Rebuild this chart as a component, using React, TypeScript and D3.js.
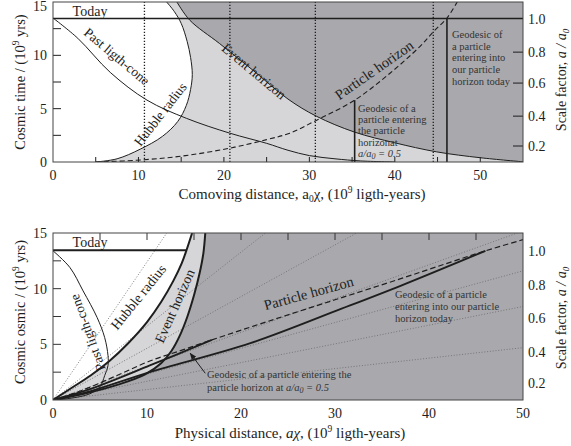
import * as d3 from 'd3'

type Pt = [number, number]

// ---------- comoving panel (top) : [a0 chi, t] ----------
const hubbleComoving: Pt[] = [
  [5, 0], [7.5, 0.3], [10.2, 1.2], [12.8, 2.4], [14.6, 3.8], [15.6, 5.3], [16.1, 6.8],
  [16.3, 8.2], [16.1, 9.8], [15.7, 11.3], [15.0, 13.0], [14.2, 14.1], [13.3, 15],
]
const eventComoving: Pt[] = [
  [14.5, 15], [16, 13.3], [19.5, 11.1], [23.4, 8.6], [27.5, 5.9], [30.8, 4.3], [35.3, 2.8],
  [40, 1.8], [44.9, 0.95], [50, 0.4], [55, 0.02],
]
const pastConeComoving: Pt[] = [
  [0, 13.5], [2.9, 11.6], [6.7, 8.4], [11, 5.8], [15.6, 4.1], [20.7, 2.7], [25, 1.75],
  [27.5, 1.1], [30, 0.6], [33, 0.3], [36, 0.1], [40, 0],
]
const particleComoving: Pt[] = [
  [5, 0], [10.5, 0.2], [15.5, 0.6], [20.7, 1.3], [25, 2.1], [27.7, 2.7], [30.8, 3.9],
  [35.3, 5.8], [39.4, 8.3], [42.9, 10.8], [44.5, 12.2], [46.1, 13.5], [47.3, 15],
]
const dottedComoving = [10.7, 20.7, 30.7, 44.5]
const geodesicHalf: Pt = [35.3, 5.8]
const geodesicToday: Pt = [46.1, 13.5]

// ---------- physical panel (bottom) : [a chi, t] ----------
const hubblePhysical: Pt[] = [
  [0, 0], [2, 1.1], [4, 2.2], [6, 3.5], [8, 5.1], [10, 7.0], [11.5, 8.8],
  [12.8, 10.7], [13.7, 12.3], [14.2, 13.45], [14.8, 15],
]
const eventPhysical: Pt[] = [
  [0, 0], [3.5, 0.6], [7, 1.4], [9.8, 2.3], [11.5, 3.3], [12.6, 4.4], [13.5, 5.8],
  [14.3, 7.5], [15.0, 9.4], [15.6, 11.4], [16.0, 13.2], [16.2, 15],
]
const pastConePhysical: Pt[] = [
  [0, 13.4], [1.8, 11.9], [3.2, 9.8], [4.7, 7.4], [5.5, 5.6], [5.85, 4.0], [5.85, 3.1],
  [5.5, 2.2], [5.0, 1.2], [3.9, 0.55], [1.8, 0.15], [0, 0],
]
const particlePhysical: Pt[] = [
  [0, 0], [3.2, 0.9], [6.8, 2.2], [10.3, 3.5], [13.8, 4.5], [16.9, 5.4], [23, 7.1],
  [30, 9.0], [37, 10.9], [42, 12.3], [46, 13.4], [50, 14.4],
]
const geodesicHalfPhysical: Pt[] = [[0, 0], [4, 1.0], [10.3, 3.1], [16.9, 5.4]]
const geodesicTodayPhysical: Pt[] = [
  [0, 0], [4, 0.8], [10.3, 2.5], [21, 5.1], [30.7, 8.2], [37.1, 10.3], [46, 13.4],
]
// end points of the comoving world lines drawn dotted
const dottedPhysicalEnds: Pt[] = [
  [12.1, 15], [22.6, 15], [32.3, 15], [49.4, 15], [50, 11.6], [50, 8.4], [50, 4.7],
]

// ---------- ticks ----------
const TODAY = 13.45
const timeTicks = [0, 5, 10, 15]
const timeMinor = [2.5, 5, 7.5, 10, 12.5]
const comovingTicks = [0, 10, 20, 30, 40, 50]
const comovingMinor = [5, 10, 15, 20, 25, 30, 35, 40, 45, 50]
const physicalTicks = [0, 10, 20, 30, 40, 50]
const physicalTopTicks = [5, 10, 15, 20, 25, 30, 35, 40, 45]
const scaleLabels = ['0.2', '0.4', '0.6', '0.8', '1.0']
const scaleTimes = [1.5, 4.3, 7.4, 10.3, 13.4]

const FONT = '"Liberation Serif", "DejaVu Serif", serif'
const LIGHT = '#d6d6d8'
const DARK = '#a9a9ad'
const INK = '#1e1e1e'

const L = 53, R = 523
const xTop = d3.scaleLinear().domain([0, 55]).range([L, R])
const yTop = d3.scaleLinear().domain([0, 15]).range([162, 2])
const xBot = d3.scaleLinear().domain([0, 50]).range([L, R])
const yBot = d3.scaleLinear().domain([0, 15]).range([400, 233])

function curveOf(x: d3.ScaleLinear<number, number>, y: d3.ScaleLinear<number, number>) {
  return d3.line<Pt>().x(d => x(d[0])).y(d => y(d[1])).curve(d3.curveCatmullRom.alpha(0.5))
}
const lineTop = curveOf(xTop, yTop)
const lineBot = curveOf(xBot, yBot)
const straight = (x: d3.ScaleLinear<number, number>, y: d3.ScaleLinear<number, number>) =>
  d3.line<Pt>().x(d => x(d[0])).y(d => y(d[1]))

function closeWith(path: string, x: d3.ScaleLinear<number, number>, y: d3.ScaleLinear<number, number>, corners: Pt[]) {
  return path + corners.map(c => `L${x(c[0])},${y(c[1])}`).join('') + 'Z'
}

function Label({ x, y, rot = 0, size = 14, children, fill = INK, anchor = 'middle' }: any) {
  return (
    <text transform={`translate(${x},${y}) rotate(${rot})`} textAnchor={anchor} fontSize={size} fill={fill} fontFamily={FONT}>
      {children}
    </text>
  )
}

function Note({ x, y, lines, step }: { x: number; y: number; lines: any[]; step: number }) {
  return (
    <text fontSize={10.5} fill="#333" fontFamily={FONT}>
      {lines.map((l, i) => (
        <tspan key={i} x={x} y={y + i * step}>{l}</tspan>
      ))}
    </text>
  )
}

const aRatio = (
  <>
    <tspan fontStyle="italic">a/a</tspan>
    <tspan fontStyle="italic" fontSize={8} dy={2}>0</tspan>
    <tspan fontStyle="italic" dy={-2}> = 0.5</tspan>
  </>
)

const sup9 = (after: string) => (
  <>
    <tspan fontSize={9.5} dy={-6}>9</tspan><tspan dy={6}>{after}</tspan>
  </>
)

function TopPanel() {
  const w = R - L
  const white = closeWith(lineTop(hubbleComoving) ?? '', xTop, yTop, [[0, 15], [0, 0]])
  const dark = closeWith(lineTop(eventComoving) ?? '', xTop, yTop, [[55, 0], [55, 15]])
  return (
    <g>
      <defs>
        <clipPath id="clipTop"><rect x={L} y={yTop(15)} width={w} height={yTop(0) - yTop(15)} /></clipPath>
      </defs>
      <g clipPath="url(#clipTop)">
        <rect x={L} y={yTop(15)} width={w} height={yTop(0) - yTop(15)} fill={LIGHT} />
        <path d={white} fill="#fff" />
        <path d={dark} fill={DARK} />
        {dottedComoving.map(c => (
          <line key={c} x1={xTop(c)} x2={xTop(c)} y1={yTop(0)} y2={yTop(15)} stroke={INK} strokeWidth={1.3} strokeDasharray="1.3 1.7" />
        ))}
        <path d={lineTop(hubbleComoving) ?? ''} fill="none" stroke={INK} strokeWidth={1} />
        <path d={lineTop(eventComoving) ?? ''} fill="none" stroke={INK} strokeWidth={1} />
        <path d={lineTop(pastConeComoving) ?? ''} fill="none" stroke={INK} strokeWidth={1} />
        <path d={lineTop(particleComoving) ?? ''} fill="none" stroke={INK} strokeWidth={1.1} strokeDasharray="5 3" />
        <line x1={xTop(geodesicHalf[0])} x2={xTop(geodesicHalf[0])} y1={yTop(0)} y2={yTop(geodesicHalf[1])} stroke={INK} strokeWidth={1.6} />
        <line x1={xTop(geodesicToday[0])} x2={xTop(geodesicToday[0])} y1={yTop(0)} y2={yTop(geodesicToday[1])} stroke={INK} strokeWidth={1.6} />
        <line x1={L} x2={R} y1={yTop(TODAY)} y2={yTop(TODAY)} stroke={INK} strokeWidth={1.6} />
        {timeMinor.map(t => <line key={t} x1={L} x2={L + 8} y1={yTop(t)} y2={yTop(t)} stroke={INK} />)}
        {comovingMinor.map(c => <line key={c} x1={xTop(c)} x2={xTop(c)} y1={yTop(0)} y2={yTop(0) - 5} stroke={INK} />)}
        {scaleTimes.slice(0, 4).map(t => <line key={t} x1={R - 10} x2={R} y1={yTop(t)} y2={yTop(t)} stroke={INK} />)}
      </g>
      <rect x={L} y={yTop(15)} width={w} height={yTop(0) - yTop(15)} fill="none" stroke="#444" strokeWidth={1} />

      <Label x={90} y={16}>Today</Label>
      <Label x={114} y={60} rot={40} size={13.5}>Past ligth-cone</Label>
      <Label x={164} y={117} rot={-52} size={13.5}>Hubble radius</Label>
      <Label x={251} y={75} rot={40}>Event horizon</Label>
      <Label x={377} y={74} rot={-35} size={14.5}>Particle horizon</Label>
      <Note x={358} y={112} step={11.2} lines={['Geodesic of a', 'particle entering', 'the particle', 'horizonat', aRatio]} />
      <Note x={452} y={38} step={11.7} lines={['Geodesic of', 'a particle', 'entering into', 'our particle', 'horizon today']} />

      {timeTicks.map(t => (
        <text key={t} x={47} y={Math.max(yTop(t), 6)} dy="0.35em" textAnchor="end" fontSize={14} fontFamily={FONT} fill={INK}>{t}</text>
      ))}
      {comovingTicks.map(c => (
        <text key={c} x={xTop(c)} y={180} textAnchor="middle" fontSize={14} fontFamily={FONT} fill={INK}>{c}</text>
      ))}
      {scaleLabels.map((s, i) => (
        <text key={s} x={528} y={yTop(scaleTimes[i])} dy="0.35em" fontSize={14} fontFamily={FONT} fill={INK}>{s}</text>
      ))}
      <Label x={302} y={199} size={15}>
        Comoving distance, a<tspan fontSize={9.5} dy={3}>0</tspan><tspan dy={-3}>χ, (10</tspan>
        {sup9(' ligth-years)')}
      </Label>
      <Label x={25} y={82} rot={-90} size={14.5}>
        Cosmic time / (10{sup9(' yrs)')}
      </Label>
      <Label x={566} y={80} rot={-90}>
        Scale factor, <tspan fontStyle="italic">a / a</tspan><tspan fontStyle="italic" fontSize={9} dy={3}>0</tspan>
      </Label>
    </g>
  )
}

function BottomPanel() {
  const w = R - L
  const lightP = closeWith(lineBot(eventPhysical) ?? '', xBot, yBot, [[0, 15]])
  const whiteP = closeWith(lineBot(hubblePhysical) ?? '', xBot, yBot, [[0, 15]])
  const seg = straight(xBot, yBot)
  return (
    <g>
      <defs>
        <clipPath id="clipBot"><rect x={L} y={yBot(15)} width={w} height={yBot(0) - yBot(15)} /></clipPath>
        <marker id="arrowHead" viewBox="0 0 10 10" refX={9} refY={5} markerWidth={7} markerHeight={7} orient="auto">
          <path d="M0,1 L10,5 L0,9 Z" fill={INK} />
        </marker>
      </defs>
      <g clipPath="url(#clipBot)">
        <rect x={L} y={yBot(15)} width={w} height={yBot(0) - yBot(15)} fill={DARK} />
        <path d={lightP} fill={LIGHT} />
        <path d={whiteP} fill="#fff" />
        {dottedPhysicalEnds.map((e, i) => (
          <path key={i} d={seg([[0, 0], e]) ?? ''} fill="none" stroke="#6f6f72" strokeWidth={0.9} strokeDasharray="1 1.8" />
        ))}
        <path d={lineBot(pastConePhysical) ?? ''} fill="none" stroke={INK} strokeWidth={1} />
        <path d={lineBot(particlePhysical) ?? ''} fill="none" stroke={INK} strokeWidth={1.2} strokeDasharray="5.5 3" />
        <path d={lineBot(geodesicHalfPhysical) ?? ''} fill="none" stroke={INK} strokeWidth={1.9} />
        <path d={lineBot(geodesicTodayPhysical) ?? ''} fill="none" stroke={INK} strokeWidth={1.9} />
        <path d={lineBot(eventPhysical) ?? ''} fill="none" stroke={INK} strokeWidth={2} />
        <path d={lineBot(hubblePhysical) ?? ''} fill="none" stroke={INK} strokeWidth={2} />
        <line x1={L} x2={xBot(hubblePhysical[9][0])} y1={yBot(TODAY)} y2={yBot(TODAY)} stroke={INK} strokeWidth={1.8} />
        {timeMinor.map(t => <line key={t} x1={L} x2={L + 8} y1={yBot(t)} y2={yBot(t)} stroke="#333" />)}
        {physicalTopTicks.map(c => <line key={c} x1={xBot(c)} x2={xBot(c)} y1={yBot(15)} y2={yBot(15) + 7} stroke="#333" />)}
      </g>
      <rect x={L} y={yBot(15)} width={w} height={yBot(0) - yBot(15)} fill="none" stroke="#444" strokeWidth={1} />

      <Label x={90} y={247}>Today</Label>
      <Label x={92} y={331} rot={-110} size={13.5}>Past ligth-cone</Label>
      <Label x={142} y={300} rot={-51}>Hubble radius</Label>
      <Label x={179} y={308} rot={-66}>Event horizon</Label>
      <Label x={310} y={298} rot={-15.5} size={14.5}>Particle horizon</Label>
      <Note x={395} y={298} step={12} lines={['Geodesic of a particle', 'entering into our particle', 'horizon today']} />
      <Note x={207} y={378} step={12.5} lines={['Geodesic of a particle entering the', <>particle horizon at {aRatio}</>]} />
      <line x1={xBot(16.2)} y1={yBot(2.4)} x2={xBot(14.6)} y2={yBot(4.2)} stroke={INK} strokeWidth={1} markerEnd="url(#arrowHead)" />

      {timeTicks.map(t => (
        <text key={t} x={47} y={yBot(t)} dy="0.35em" textAnchor="end" fontSize={14} fontFamily={FONT} fill={INK}>{t}</text>
      ))}
      {physicalTicks.map(c => (
        <text key={c} x={xBot(c)} y={418} textAnchor="middle" fontSize={14} fontFamily={FONT} fill={INK}>{c}</text>
      ))}
      {scaleLabels.map((s, i) => (
        <text key={s} x={528} y={yBot(scaleTimes[i])} dy="0.35em" fontSize={14} fontFamily={FONT} fill={INK}>{s}</text>
      ))}
      <Label x={290} y={438} size={15}>
        Physical distance, <tspan fontStyle="italic">aχ</tspan>, (10{sup9(' ligth-years)')}
      </Label>
      <Label x={25} y={312} rot={-90} size={14.5}>
        Cosmic osmic / (10{sup9(' yrs)')}
      </Label>
      <Label x={566} y={318} rot={-90}>
        Scale factor, <tspan fontStyle="italic">a / a</tspan><tspan fontStyle="italic" fontSize={9} dy={3}>0</tspan>
      </Label>
    </g>
  )
}

const W_ = 571
const H_ = 446

export default function App() {
  return (
    <svg width={W_} height={H_} style={{ position: 'absolute', left: 0, top: 0, background: '#fff' }}>
      <TopPanel />
      <BottomPanel />
    </svg>
  )
}
